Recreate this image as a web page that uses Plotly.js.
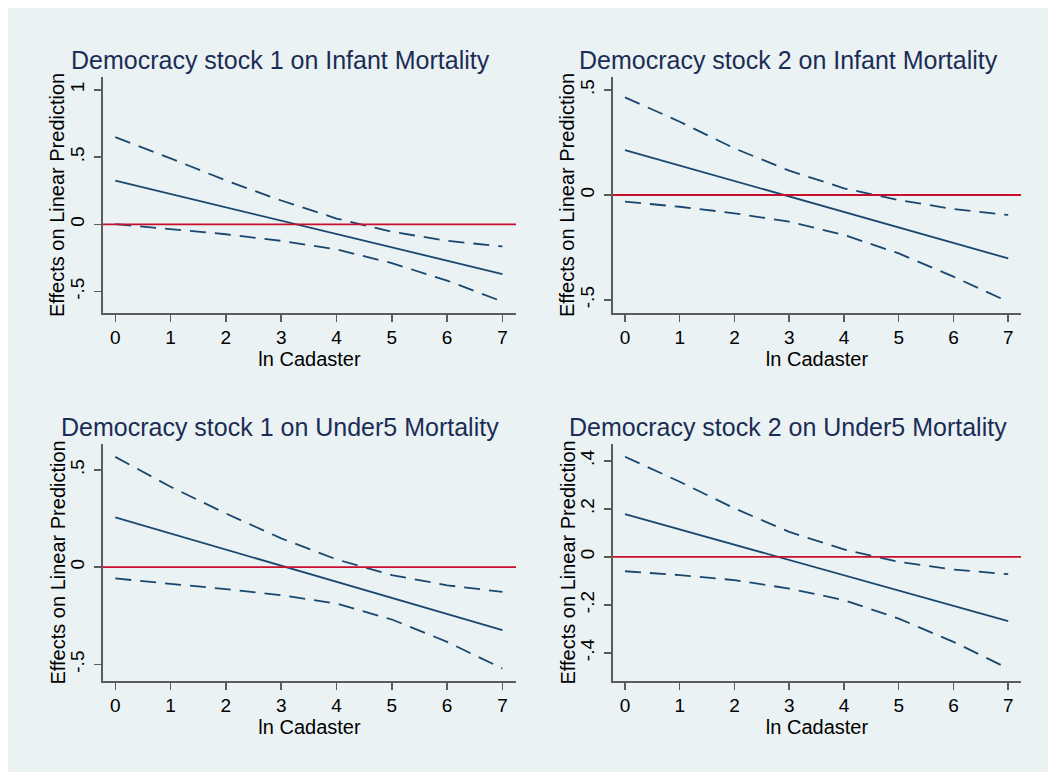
<!DOCTYPE html>
<html>
<head>
<meta charset="utf-8">
<script src="https://cdn.plot.ly/plotly-3.0.1.min.js"></script>
<style>html,body{margin:0;padding:0;background:#fff;}#chart{width:1049px;height:773px;}</style>
</head>
<body>
<div id="chart"></div>
<script>
// ---- data ----
const xVals = [0, 1, 2, 3, 4, 5, 6, 7];
const xTickText = ["0", "1", "2", "3", "4", "5", "6", "7"];

const panelTitles = [
  "Democracy stock 1 on Infant Mortality",
  "Democracy stock 2 on Infant Mortality",
  "Democracy stock 1 on Under5 Mortality",
  "Democracy stock 2 on Under5 Mortality"
];
const xTitle = "ln Cadaster";
const yTitle = "Effects on Linear Prediction";

const p1Est   = [0.325, 0.226, 0.126, 0.027, -0.072, -0.172, -0.271, -0.370];
const p1Upper = [0.648, 0.490, 0.326, 0.177, 0.043, -0.055, -0.123, -0.165];
const p1Lower = [0.002, -0.038, -0.074, -0.123, -0.187, -0.289, -0.419, -0.575];

const p2Est   = [0.214, 0.140, 0.066, -0.007, -0.081, -0.155, -0.228, -0.302];
const p2Upper = [0.465, 0.349, 0.222, 0.116, 0.032, -0.024, -0.067, -0.095];
const p2Lower = [-0.032, -0.056, -0.087, -0.127, -0.190, -0.278, -0.389, -0.508];

const p3Est   = [0.256, 0.173, 0.090, 0.007, -0.076, -0.159, -0.241, -0.324];
const p3Upper = [0.567, 0.413, 0.276, 0.148, 0.040, -0.041, -0.093, -0.127];
const p3Lower = [-0.058, -0.084, -0.113, -0.144, -0.187, -0.269, -0.384, -0.521];

const p4Est   = [0.178, 0.114, 0.051, -0.013, -0.077, -0.140, -0.204, -0.268];
const p4Upper = [0.417, 0.313, 0.202, 0.104, 0.031, -0.021, -0.053, -0.072];
const p4Lower = [-0.060, -0.076, -0.097, -0.132, -0.180, -0.257, -0.354, -0.465];

const yTicks1 = [-0.5, 0, 0.5, 1];
const yTickText1 = ["-.5", "0", ".5", "1"];
const yTicks2 = [-0.5, 0, 0.5];
const yTickText2 = ["-.5", "0", ".5"];
const yTicks3 = [-0.5, 0, 0.5];
const yTickText3 = ["-.5", "0", ".5"];
const yTicks4 = [-0.4, -0.2, 0, 0.2, 0.4];
const yTickText4 = ["-.4", "-.2", "0", ".2", ".4"];

// ---- styling / layout ----
const W = 1049, H = 773;
const FONT = "Liberation Sans, Arial, Helvetica, sans-serif";
const NAVY = "#1a476f";
const RED = "#c8102e";
const BG = "#eaf2f3";
const AXIS = "#5b5b5b";

const panels = [
  {est: p1Est, up: p1Upper, lo: p1Lower, px: [103, 516], py: [77, 313], xr: [-0.222, 7.245], yr: [-0.660, 1.096], tv: yTicks1, tt: yTickText1, title: panelTitles[0], tx: 280, ty: 60, ytx: 57},
  {est: p2Est, up: p2Upper, lo: p2Lower, px: [613, 1021], py: [77, 313], xr: [-0.219, 7.234], yr: [-0.562, 0.562], tv: yTicks2, tt: yTickText2, title: panelTitles[1], tx: 788, ty: 60, ytx: 567},
  {est: p3Est, up: p3Upper, lo: p3Lower, px: [103, 516], py: [444, 681], xr: [-0.222, 7.245], yr: [-0.585, 0.633], tv: yTicks3, tt: yTickText3, title: panelTitles[2], tx: 280, ty: 427, ytx: 57},
  {est: p4Est, up: p4Upper, lo: p4Lower, px: [613, 1021], py: [444, 681], xr: [-0.219, 7.234], yr: [-0.517, 0.470], tv: yTicks4, tt: yTickText4, title: panelTitles[3], tx: 788, ty: 427, ytx: 567}
];

const traces = [];
const layout = {
  width: W, height: H,
  margin: {l: 0, r: 0, t: 0, b: 0},
  paper_bgcolor: "#ffffff",
  plot_bgcolor: "#ffffff",
  showlegend: false,
  font: {family: FONT, color: "#000"},
  shapes: [{
    type: "rect", xref: "paper", yref: "paper", layer: "below",
    x0: 8 / W, x1: 1048 / W, y0: 1 - 772 / H, y1: 1 - 8 / H,
    fillcolor: BG, line: {width: 0}
  }],
  annotations: []
};

panels.forEach((p, i) => {
  const n = i + 1;
  const xa = n === 1 ? "x" : "x" + n;
  const ya = n === 1 ? "y" : "y" + n;
  const xKey = n === 1 ? "xaxis" : "xaxis" + n;
  const yKey = n === 1 ? "yaxis" : "yaxis" + n;
  const lineBase = {x: xVals, xaxis: xa, yaxis: ya, mode: "lines", hoverinfo: "skip"};
  traces.push(Object.assign({}, lineBase, {y: p.up, line: {color: NAVY, width: 1.8, dash: "16px,9px"}}));
  traces.push(Object.assign({}, lineBase, {y: p.lo, line: {color: NAVY, width: 1.8, dash: "16px,9px"}}));
  traces.push(Object.assign({}, lineBase, {y: p.est, line: {color: NAVY, width: 1.8}}));

  layout[xKey] = {
    domain: [p.px[0] / W, p.px[1] / W],
    anchor: ya,
    range: p.xr,
    tickvals: xVals, ticktext: xTickText,
    ticks: "outside", ticklen: 7, tickwidth: 1.5, tickcolor: AXIS,
    showline: true, linecolor: AXIS, linewidth: 1.6,
    showgrid: false, zeroline: false,
    tickfont: {family: FONT, size: 19, color: "#000"},
    title: {text: xTitle, font: {family: FONT, size: 20, color: "#000"}, standoff: 0},
    fixedrange: true
  };
  layout[yKey] = {
    domain: [1 - p.py[1] / H, 1 - p.py[0] / H],
    anchor: xa,
    range: p.yr,
    tickvals: p.tv, ticktext: p.tt,
    tickangle: -90,
    ticklabelstandoff: 3,
    ticks: "outside", ticklen: 7, tickwidth: 1.5, tickcolor: AXIS,
    showline: true, linecolor: AXIS, linewidth: 1.6,
    showgrid: true, gridcolor: BG, gridwidth: 1.5,
    zeroline: false,
    tickfont: {family: FONT, size: 19, color: "#000"},
    fixedrange: true
  };
  layout.shapes.push({
    type: "line", xref: xa + " domain", yref: ya, layer: "above",
    x0: 0, x1: 1, y0: 0, y1: 0,
    line: {color: RED, width: 1.8}
  });
  layout.annotations.push({
    text: p.title, xref: "paper", yref: "paper",
    x: p.tx / W, y: 1 - p.ty / H, xanchor: "center", yanchor: "middle",
    showarrow: false,
    font: {family: FONT, size: 25, color: "#1c2d55"}
  });
  layout.annotations.push({
    text: yTitle, xref: "paper", yref: ya + " domain",
    x: p.ytx / W, y: 0.5, xanchor: "center", yanchor: "middle",
    textangle: -90, showarrow: false,
    font: {family: FONT, size: 20, color: "#000"}
  });
});

Plotly.newPlot("chart", traces, layout, {displayModeBar: false, staticPlot: true});
</script>
</body>
</html>
